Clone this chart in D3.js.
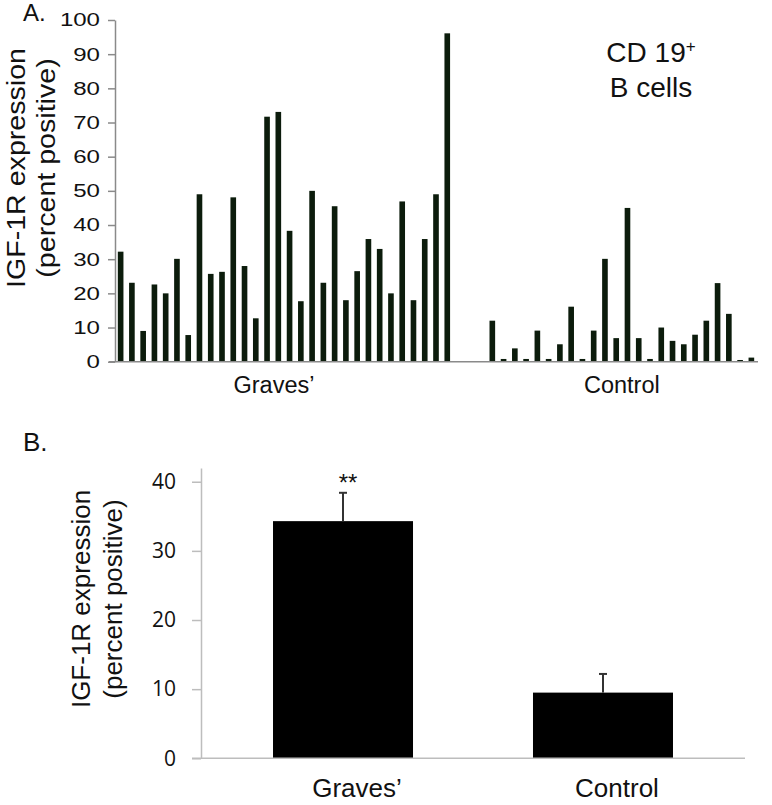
<!DOCTYPE html>
<html>
<head>
<meta charset="utf-8">
<script src="https://cdn.jsdelivr.net/npm/d3@7"></script>
<style>
  html, body { margin: 0; padding: 0; background: #fff; }
  svg { display: block; }
  text { font-family: "Liberation Sans", Arial, sans-serif; fill: #111; }
</style>
</head>
<body>
<svg id="chart" width="772" height="805"></svg>
<script>
// ---------- Data ----------
const gravesValues = [32.2, 23.1, 9.0, 22.6, 20.0, 30.1, 7.8, 49.0, 25.7, 26.3,
                      48.1, 28.0, 12.7, 71.7, 73.1, 38.3, 17.7, 50.0, 23.1, 45.5,
                      18.0, 26.5, 35.9, 33.0, 20.0, 46.9, 18.0, 35.9, 49.0, 96.1];
const controlValues = [12.0, 0.8, 3.9, 0.8, 9.1, 0.8, 5.1, 16.1, 0.8, 9.1,
                       30.1, 6.9, 45.0, 6.9, 0.8, 10.0, 6.1, 5.1, 7.9, 12.0,
                       23.0, 14.0, 0.5, 1.2];
const groupLabels = ["Graves\u2019", "Control"];
const gapSlots = 3;
const ticksA = [0, 10, 20, 30, 40, 50, 60, 70, 80, 90, 100];

const summaryMeans = [34.3, 9.5];
const summaryErr = [4.1, 2.7];
const ticksB = [0, 10, 20, 30, 40];
const significance = ["**", ""];

const svg = d3.select("#chart");

// ---------- Panel A ----------
const slots = [];
gravesValues.forEach((v, i) => slots.push({ id: "g" + i, value: v, group: 0 }));
for (let k = 0; k < gapSlots; k++) slots.push({ id: "gap" + k, value: null, group: -1 });
controlValues.forEach((v, i) => slots.push({ id: "c" + i, value: v, group: 1 }));

const xA = d3.scaleBand().domain(slots.map(d => d.id)).range([115, 757])
  .paddingInner(0.5).paddingOuter(0.25);
const yA = d3.scaleLinear().domain([0, 100]).range([361.7, 20]);

const gA = svg.append("g");
gA.selectAll("rect.barA").data(slots.filter(d => d.value !== null)).join("rect")
  .attr("class", "barA")
  .attr("x", d => xA(d.id))
  .attr("width", xA.bandwidth())
  .attr("y", d => yA(d.value))
  .attr("height", d => yA(0) - yA(d.value))
  .attr("fill", "#0c1c0c");

const axA = gA.append("g").attr("transform", "translate(115,0)")
  .call(d3.axisLeft(yA).tickValues(ticksA).tickSize(7).tickSizeOuter(0).tickPadding(0));
axA.select(".domain").attr("stroke", "#8a8a8a").attr("stroke-width", 1.5);
axA.selectAll(".tick line").attr("stroke", "#8a8a8a").attr("stroke-width", 1.5);
axA.selectAll(".tick text")
  .attr("x", 0)
  .attr("transform", "translate(-15,0) scale(1.3,1)")
  .style("font-family", "'Liberation Sans', Arial, sans-serif")
  .style("font-size", "18.5px")
  .attr("fill", "#111");

// baseline
gA.append("line").attr("x1", 109).attr("x2", 758)
  .attr("y1", yA(0)).attr("y2", yA(0))
  .attr("stroke", "#8a8a8a").attr("stroke-width", 1.5);

// group labels
[0, 1].forEach(gi => {
  const ids = slots.filter(d => d.group === gi).map(d => xA(d.id) + xA.bandwidth() / 2);
  const cx = (d3.min(ids) + d3.max(ids)) / 2;
  gA.append("text")
    .attr("x", cx + (gi === 0 ? -10 : 0)).attr("y", 393)
    .attr("text-anchor", "middle")
    .style("font-size", "23.5px")
    .text(groupLabels[gi]);
});

// y label A
const ylA = gA.append("text").attr("transform", "translate(25,168) rotate(-90) scale(1.1,1)")
  .attr("text-anchor", "middle").style("font-size", "26px");
ylA.append("tspan").attr("x", 0).attr("y", 0).text("IGF-1R expression");
ylA.append("tspan").attr("x", 0).attr("y", 30).text("(percent  positive)");

// annotation
const ann = gA.append("text").attr("text-anchor", "middle").style("font-size", "28px");
const t1 = ann.append("tspan").attr("x", 651).attr("y", 62);
t1.append("tspan").text("CD 19");
t1.append("tspan").attr("dy", -10).style("font-size", "17px").text("+");
ann.append("tspan").attr("x", 651).attr("y", 97).text("B cells");

gA.append("text").attr("x", 23).attr("y", 21).style("font-size", "24px").text("A.");

// ---------- Panel B ----------
const xB = d3.scaleBand().domain(groupLabels).range([201, 745])
  .paddingInner(0.4615).paddingOuter(0.277);
const yB = d3.scaleLinear().domain([0, 42]).range([758.3, 467.9]);

const gB = svg.append("g");
const dataB = groupLabels.map((g, i) => ({ g, mean: summaryMeans[i], err: summaryErr[i], sig: significance[i] }));

gB.selectAll("rect.barB").data(dataB).join("rect")
  .attr("class", "barB")
  .attr("x", d => xB(d.g))
  .attr("width", xB.bandwidth())
  .attr("y", d => yB(d.mean))
  .attr("height", d => yB(0) - yB(d.mean))
  .attr("fill", "#000");

// error bars (upper only)
gB.selectAll("line.err").data(dataB).join("line")
  .attr("class", "err")
  .attr("x1", d => xB(d.g) + xB.bandwidth() / 2)
  .attr("x2", d => xB(d.g) + xB.bandwidth() / 2)
  .attr("y1", d => yB(d.mean))
  .attr("y2", d => yB(d.mean + d.err))
  .attr("stroke", "#333").attr("stroke-width", 2);
gB.selectAll("line.cap").data(dataB).join("line")
  .attr("class", "cap")
  .attr("x1", d => xB(d.g) + xB.bandwidth() / 2 - 4)
  .attr("x2", d => xB(d.g) + xB.bandwidth() / 2 + 4)
  .attr("y1", d => yB(d.mean + d.err))
  .attr("y2", d => yB(d.mean + d.err))
  .attr("stroke", "#333").attr("stroke-width", 2);

gB.selectAll("text.sig").data(dataB).join("text")
  .attr("class", "sig")
  .attr("x", d => xB(d.g) + xB.bandwidth() / 2 + 5)
  .attr("y", d => yB(d.mean + d.err) - 2)
  .attr("text-anchor", "middle")
  .style("font-size", "24px")
  .text(d => d.sig);

const axB = gB.append("g").attr("transform", "translate(201,0)")
  .call(d3.axisLeft(yB).tickValues(ticksB).tickSize(9).tickSizeOuter(0).tickPadding(16));
axB.select(".domain").attr("stroke", "#bdbdbd").attr("stroke-width", 1.5);
axB.selectAll(".tick line").attr("stroke", "#bdbdbd").attr("stroke-width", 1.5);
axB.selectAll(".tick text")
  .style("font-family", "'Open Sans', sans-serif")
  .style("font-size", "21px")
  .attr("fill", "#222");

gB.append("line").attr("x1", 192).attr("x2", 745)
  .attr("y1", yB(0)).attr("y2", yB(0))
  .attr("stroke", "#bdbdbd").attr("stroke-width", 1.5);

gB.selectAll("text.xlab").data(dataB).join("text")
  .attr("class", "xlab")
  .attr("x", d => xB(d.g) + xB.bandwidth() / 2 + 14)
  .attr("y", 797)
  .attr("text-anchor", "middle")
  .style("font-size", "26px")
  .text(d => d.g);

const ylB = gB.append("text").attr("transform", "translate(90,599) rotate(-90)")
  .attr("text-anchor", "middle").style("font-size", "26px");
ylB.append("tspan").attr("x", 0).attr("y", 0).text("IGF-1R expression");
ylB.append("tspan").attr("x", 0).attr("y", 32).text("(percent  positive)");

gB.append("text").attr("x", 23).attr("y", 451).style("font-size", "26px").text("B.");
</script>
</body>
</html>
